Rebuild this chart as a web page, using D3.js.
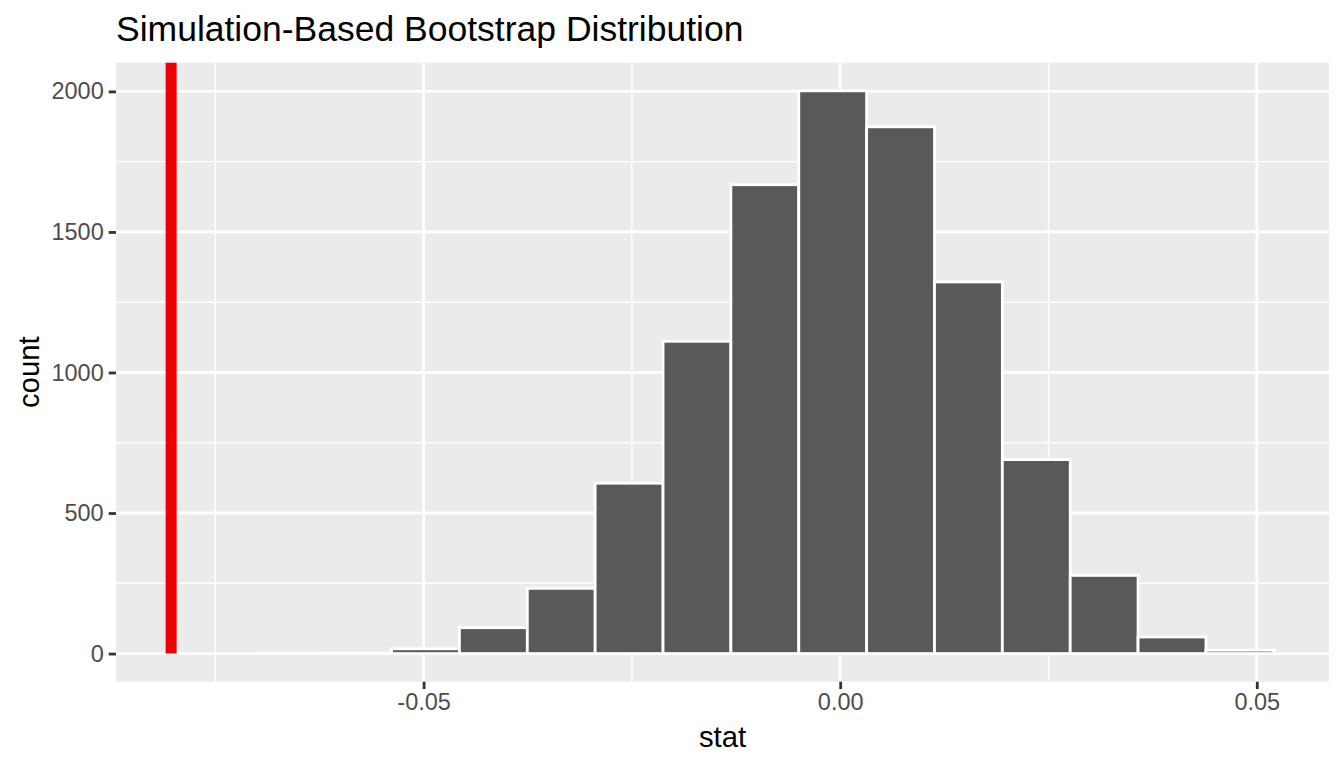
<!DOCTYPE html>
<html>
<head>
<meta charset="utf-8">
<script src="https://cdn.jsdelivr.net/npm/d3@7"></script>
<style>
  html, body { margin: 0; padding: 0; background: #fff; }
  svg { display: block; font-family: "Liberation Sans", Arial, Helvetica, sans-serif; }
</style>
</head>
<body>
<div id="chart"></div>
<script>
"use strict";

// bin edges of the histogram (stat)
let binEdges = [-0.07013, -0.06199, -0.05384, -0.04570, -0.03755, -0.02941, -0.02126, -0.01312,
  -0.00497, 0.00317, 0.01132, 0.01946, 0.02761, 0.03575, 0.04390, 0.05205];
// counts per bin
let binCounts = [1, 2, 17, 92, 232, 606, 1111, 1668, 2002, 1874, 1322, 690, 278, 59, 12];
// observed statistic (red line)
let obsStat = [-0.0803];

let xTicks = [-0.05, 0, 0.05];
let xTickLabels = ["-0.05", "0.00", "0.05"];
let xMinor = [-0.075, -0.025, 0.025, 0.075];
let yTicks = [0, 500, 1000, 1500, 2000];
let yMinor = [250, 750, 1250, 1750];

let titleText = "Simulation-Based Bootstrap Distribution";
let xTitle = "stat";
let yTitle = "count";

let bins = binCounts.map((c, i) => ({ x0: binEdges[i], x1: binEdges[i + 1], count: c }));

let width = 1344, height = 768;
let panel = { left: 116, right: 1329, top: 62.7, bottom: 681.7 };

let svg = d3.select("#chart").append("svg")
  .attr("width", width)
  .attr("height", height);

// ggplot style 5% expansion
let xLo = d3.min([binEdges[0], obsStat[0]]), xHi = binEdges[binEdges.length - 1];
let xPad = (xHi - xLo) * 0.05;
let yHi = d3.max(binCounts), yPad = yHi * 0.05;

let x = d3.scaleLinear()
  .domain([xLo - xPad, xHi + xPad])
  .range([panel.left, panel.right]);

let y = d3.scaleLinear()
  .domain([-yPad, yHi + yPad])
  .range([panel.bottom, panel.top]);

// panel background
svg.append("rect")
  .attr("x", panel.left)
  .attr("y", panel.top)
  .attr("width", panel.right - panel.left)
  .attr("height", panel.bottom - panel.top)
  .style("fill", "#EBEBEB");

let gridG = svg.append("g");

gridG.selectAll(".xminor")
  .data(xMinor.filter(d => x(d) >= panel.left && x(d) <= panel.right))
  .enter().append("line")
  .attr("x1", d => x(d)).attr("x2", d => x(d))
  .attr("y1", panel.top).attr("y2", panel.bottom)
  .style("stroke", "#fff").style("stroke-width", 1.4);

gridG.selectAll(".yminor")
  .data(yMinor)
  .enter().append("line")
  .attr("y1", d => y(d)).attr("y2", d => y(d))
  .attr("x1", panel.left).attr("x2", panel.right)
  .style("stroke", "#fff").style("stroke-width", 1.4);

gridG.selectAll(".xmajor")
  .data(xTicks)
  .enter().append("line")
  .attr("x1", d => x(d)).attr("x2", d => x(d))
  .attr("y1", panel.top).attr("y2", panel.bottom)
  .style("stroke", "#fff").style("stroke-width", 2.8);

gridG.selectAll(".ymajor")
  .data(yTicks)
  .enter().append("line")
  .attr("y1", d => y(d)).attr("y2", d => y(d))
  .attr("x1", panel.left).attr("x2", panel.right)
  .style("stroke", "#fff").style("stroke-width", 2.8);

// histogram bars
svg.append("g").selectAll(".bar")
  .data(bins)
  .enter().append("rect")
  .attr("class", "bar")
  .attr("x", d => x(d.x0))
  .attr("width", d => x(d.x1) - x(d.x0))
  .attr("y", d => y(d.count))
  .attr("height", d => y(0) - y(d.count))
  .style("fill", "#595959")
  .style("stroke", "#fff")
  .style("stroke-width", 2.8);

// observed stat line, from zero up to the panel top
svg.append("g").selectAll(".obs")
  .data(obsStat)
  .enter().append("line")
  .attr("x1", d => x(d)).attr("x2", d => x(d))
  .attr("y1", y(0)).attr("y2", panel.top)
  .style("stroke", "#EE0000")
  .style("stroke-width", 11);

// axes
let xAxis = d3.axisBottom(x)
  .tickValues(xTicks)
  .tickFormat((d, i) => xTickLabels[i])
  .tickSize(7.3)
  .tickPadding(4);

let yAxis = d3.axisLeft(y)
  .tickValues(yTicks)
  .tickFormat(d3.format("d"))
  .tickSize(7.3)
  .tickPadding(5);

let xAxisG = svg.append("g")
  .attr("transform", "translate(0," + panel.bottom + ")")
  .call(xAxis);

let yAxisG = svg.append("g")
  .attr("transform", "translate(" + panel.left + ",0)")
  .call(yAxis);

[xAxisG, yAxisG].forEach(g => {
  g.select(".domain").remove();
  g.selectAll(".tick line").style("stroke", "#333333").style("stroke-width", 2.8);
  g.selectAll(".tick text")
    .style("fill", "#4D4D4D")
    .style("font-size", "23.5px")
    .style("font-family", "'Liberation Sans', Arial, sans-serif");
});

// titles
svg.append("text")
  .attr("x", panel.left)
  .attr("y", 40.6)
  .style("font-size", "35.5px")
  .style("fill", "#000")
  .text(titleText);

svg.append("text")
  .attr("x", (panel.left + panel.right) / 2)
  .attr("y", 747)
  .attr("text-anchor", "middle")
  .style("font-size", "29.3px")
  .style("fill", "#000")
  .text(xTitle);

svg.append("text")
  .attr("transform", "translate(38.5," + ((panel.top + panel.bottom) / 2) + ") rotate(-90)")
  .attr("text-anchor", "middle")
  .style("font-size", "29.3px")
  .style("fill", "#000")
  .text(yTitle);
</script>
</body>
</html>
